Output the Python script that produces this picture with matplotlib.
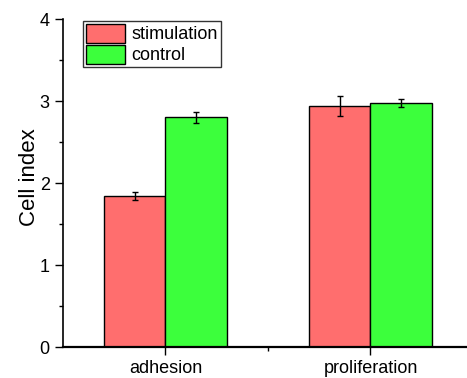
import matplotlib.pyplot as plt
from matplotlib.ticker import MultipleLocator, FixedLocator
import numpy as np

plt.rcParams['font.family'] = ['Liberation Sans', 'DejaVu Sans']

categories = ['adhesion', 'proliferation']
stimulation = [1.84, 2.94]
stimulation_err = [0.05, 0.12]
control = [2.80, 2.98]
control_err = [0.07, 0.05]

fig = plt.figure(figsize=(4.67, 3.78), dpi=100)
ax = fig.add_axes([63/467, 1 - 347/378, 410/467, 328/378])

x = np.arange(1, len(categories) + 1)
w = 0.3
ax.bar(x - w/2, stimulation, w, yerr=stimulation_err, color='#FF6E6E',
       edgecolor='black', linewidth=1, label='stimulation',
       error_kw=dict(elinewidth=1, capsize=2.5, capthick=1))
ax.bar(x + w/2, control, w, yerr=control_err, color='#3CFF3C',
       edgecolor='black', linewidth=1, label='control',
       error_kw=dict(elinewidth=1, capsize=2.5, capthick=1))

ax.set_xlim(0.5, 2.5)
ax.set_ylim(0, 4)
ax.set_xticks(x)
ax.set_xticklabels(categories)
ax.xaxis.set_minor_locator(FixedLocator([1.5]))
ax.yaxis.set_major_locator(MultipleLocator(1))
ax.yaxis.set_minor_locator(MultipleLocator(0.5))
ax.set_ylabel('Cell index', fontsize=16)
ax.yaxis.set_label_coords(-0.057, 0.518)

ax.spines['top'].set_visible(False)
ax.spines['right'].set_visible(False)
ax.spines['left'].set_linewidth(1.2)
ax.spines['bottom'].set_linewidth(1.6)
ax.tick_params(axis='y', which='major', labelsize=13, length=6, width=1)
ax.tick_params(axis='x', which='major', labelsize=13, length=6, width=1)
ax.tick_params(which='minor', length=3, width=1)

leg = ax.legend(loc='upper left', bbox_to_anchor=(20/410, 1 - 2/328),
                fontsize=13, frameon=True, fancybox=False, edgecolor='black',
                handlelength=2.2, handleheight=1.25, borderpad=0.15,
                labelspacing=0.08, handletextpad=0.35, borderaxespad=0)
leg.get_frame().set_linewidth(1)

fig.savefig('out.png', dpi=100)
